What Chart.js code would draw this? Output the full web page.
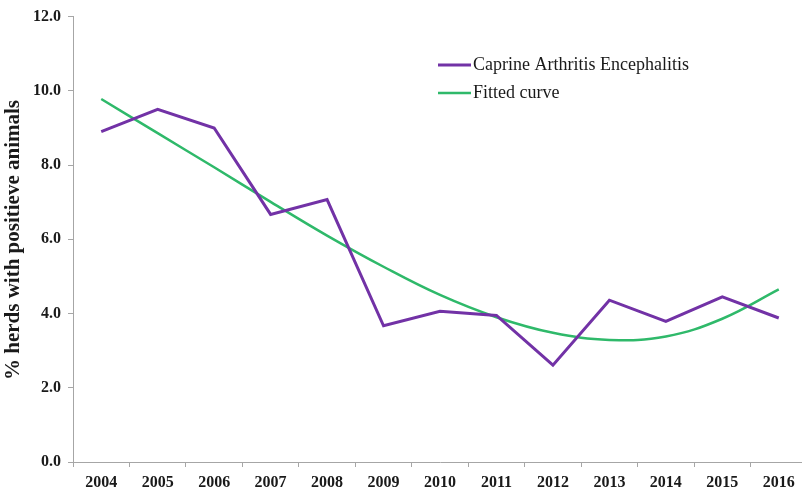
<!DOCTYPE html>
<html>
<head>
<meta charset="utf-8">
<script src="https://cdn.jsdelivr.net/npm/chart.js@4"></script>
<style>
  html, body { margin: 0; padding: 0; background: #fff; overflow: hidden; }
  #wrap { width: 808px; height: 492px; }
</style>
</head>
<body>
<div id="wrap"><canvas id="c" width="808" height="492"></canvas></div>
<script>
const years = ["2004","2005","2006","2007","2008","2009","2010","2011","2012","2013","2014","2015","2016"];
const caeValues = [8.9, 9.5, 9.0, 6.67, 7.07, 3.67, 4.06, 3.95, 2.61, 4.36, 3.79, 4.45, 3.88];
const fittedValues = [9.78, 8.86, 7.94, 7.01, 6.1, 5.26, 4.5, 3.9, 3.48, 3.29, 3.38, 3.86, 4.65];
const yTicks = [0, 2, 4, 6, 8, 10, 12];
const yTitle = "% herds with positieve animals";
const seriesNames = ["Caprine Arthritis Encephalitis", "Fitted curve"];

const PURPLE = "#7232a6";
const GREEN = "#2fb96a";
const AXIS = "#a6a6a6";
const FONT = "'Liberation Serif', 'Times New Roman', serif";

const overlay = {
  id: "overlay",
  afterDraw(chart) {
    const ctx = chart.ctx;
    ctx.save();
    // y title
    ctx.translate(14, 240);
    ctx.rotate(-Math.PI / 2);
    ctx.fillStyle = "#1a1a1a";
    ctx.font = "bold 21px " + FONT;
    ctx.textAlign = "center";
    ctx.textBaseline = "middle";
    ctx.fillText(yTitle, 0, 0);
    ctx.restore();
    // legend
    ctx.save();
    const rows = [65, 93];
    chart.data.datasets.forEach((ds, i) => {
      const y = rows[i];
      ctx.strokeStyle = ds.borderColor;
      ctx.lineWidth = ds.borderWidth;
      ctx.beginPath();
      ctx.moveTo(438, y);
      ctx.lineTo(471, y);
      ctx.stroke();
      ctx.fillStyle = "#1a1a1a";
      ctx.font = "18px " + FONT;
      ctx.textAlign = "left";
      ctx.textBaseline = "middle";
      ctx.fillText(ds.label, 473, y);
    });
    ctx.restore();
  }
};

new Chart(document.getElementById("c"), {
  type: "line",
  data: {
    labels: years,
    datasets: [
      {
        label: seriesNames[0],
        data: caeValues,
        borderColor: PURPLE,
        backgroundColor: PURPLE,
        borderWidth: 3,
        pointRadius: 0,
        tension: 0,
        fill: false
      },
      {
        label: seriesNames[1],
        data: fittedValues,
        borderColor: GREEN,
        backgroundColor: GREEN,
        borderWidth: 2.5,
        pointRadius: 0,
        tension: 0.4,
        fill: false
      }
    ]
  },
  options: {
    responsive: false,
    animation: false,
    layout: { padding: { top: 9, right: 1, left: 0, bottom: 0 } },
    plugins: { legend: { display: false }, tooltip: { enabled: false } },
    scales: {
      x: {
        type: "category",
        offset: true,
        grid: { display: true, drawOnChartArea: false, drawTicks: true, tickLength: 5, color: AXIS, offset: true },
        border: { display: true, color: AXIS, width: 1 },
        ticks: { color: "#1a1a1a", font: { family: FONT, size: 16, weight: "bold" }, maxRotation: 0, autoSkip: false, padding: 6 },
        afterFit: (s) => { s.height = 30; }
      },
      y: {
        min: 0,
        max: 12,
        afterBuildTicks: (s) => { s.ticks = yTicks.map(v => ({ value: v })); },
        grid: { display: true, drawOnChartArea: false, drawTicks: true, tickLength: 5, color: AXIS },
        border: { display: true, color: AXIS, width: 1 },
        ticks: {
          color: "#1a1a1a",
          font: { family: FONT, size: 16, weight: "bold" },
          padding: 7,
          callback: (v) => Number(v).toFixed(1)
        },
        afterFit: (s) => { s.width = 73; }
      }
    }
  },
  plugins: [overlay]
});
</script>
</body>
</html>
